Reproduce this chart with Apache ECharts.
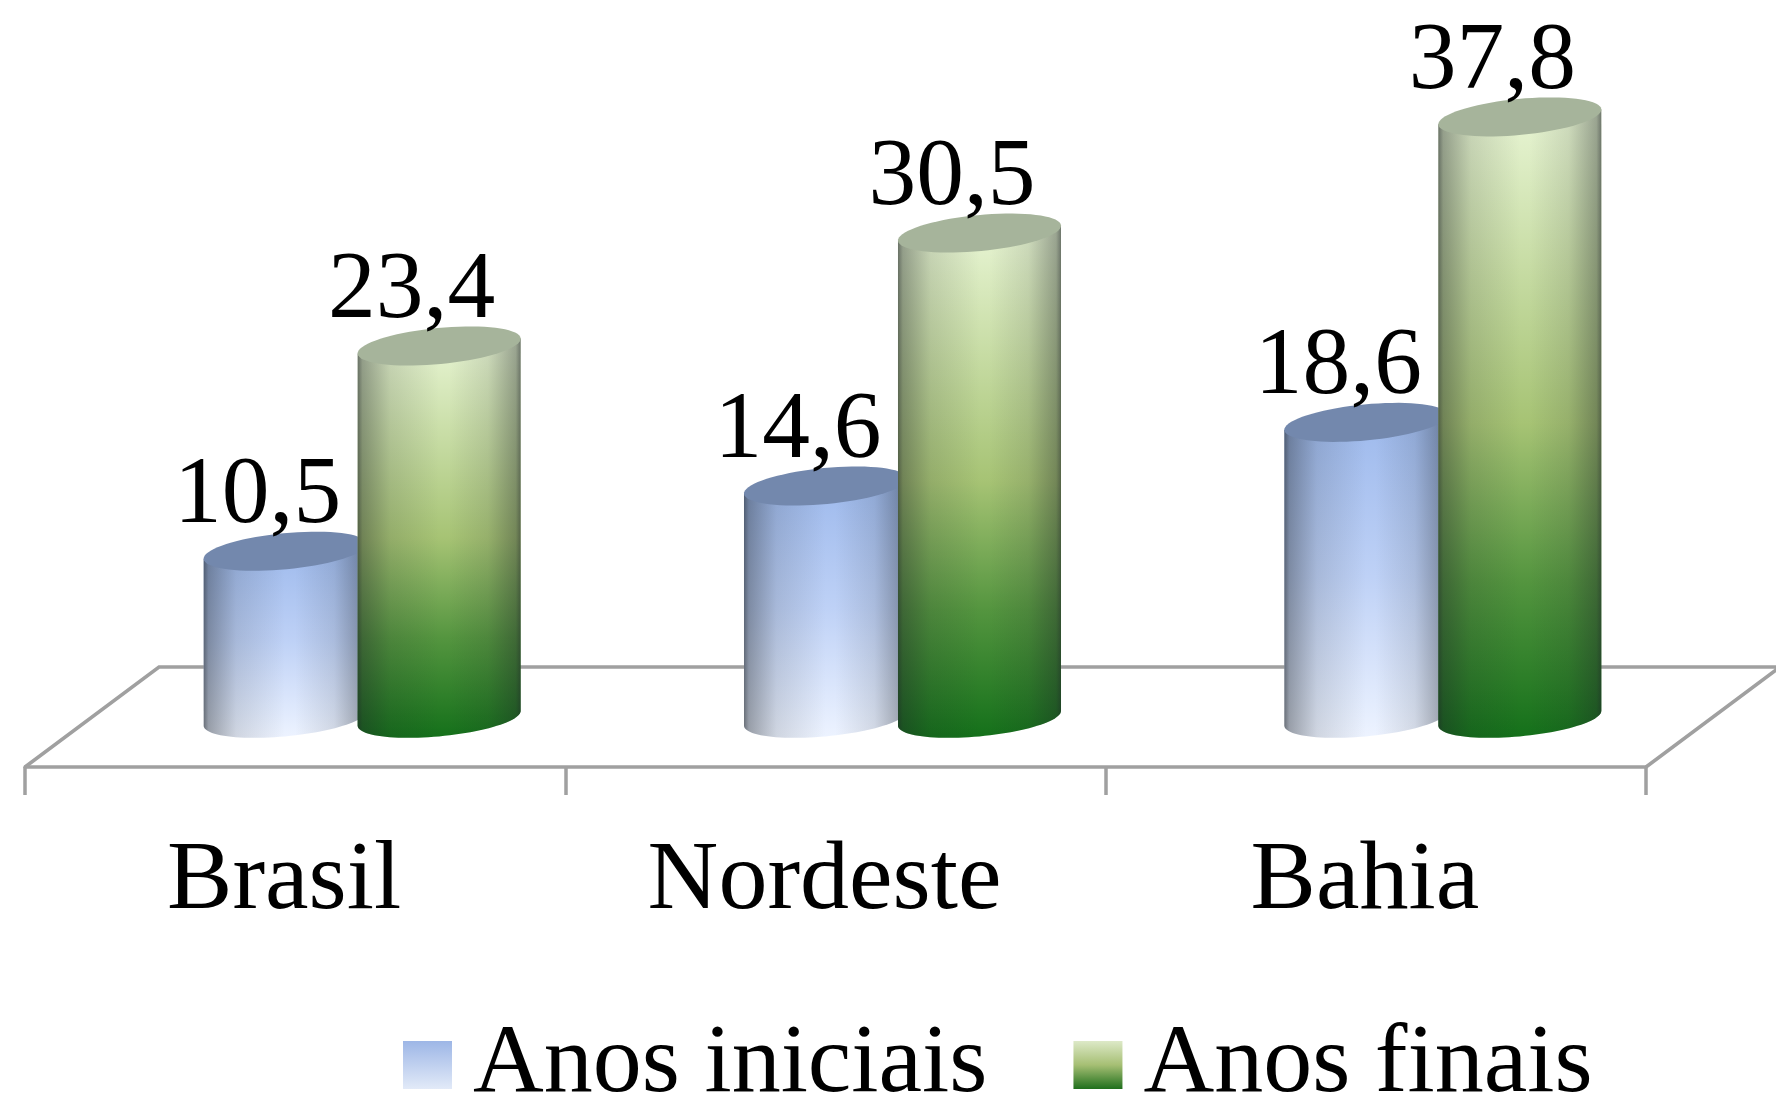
<!DOCTYPE html>
<html>
<head>
<meta charset="utf-8">
<title>Anos iniciais e finais</title>
<script src="https://cdn.jsdelivr.net/npm/echarts@6/dist/echarts.min.js"></script>
<style>
html,body{margin:0;padding:0;background:#fff;overflow:hidden}
#chart{width:1776px;height:1098px;filter:blur(0.6px)}
</style>
</head>
<body>
<div id="chart"></div>
<script>
const categories = ['Brasil', 'Nordeste', 'Bahia'];
const anosIniciais = [10.5, 14.6, 18.6];
const anosFinais = [23.4, 30.5, 37.8];
const seriesNames = ['Anos iniciais', 'Anos finais'];

const FONT = '"Liberation Serif","Times New Roman",serif';
const FONT_SIZE = 98, LABEL_SIZE = 95.5;
const G = echarts.graphic.LinearGradient;
const DEPTH = 134, FLOOR_BACK = 51.3, FLOOR_FRONT = 48.7;
const TILT = 0.095, RY = 18, WIDTH_FRAC = 0.303, STEP_FRAC = 0.285;
const LINE = '#a0a0a0', LINE_W = 3.5;

function vert(stops){ return new G(0,0,0,1,stops.map(s=>({offset:s[0],color:s[1]}))); }
const shade = () => new G(0,0,1,0,[
  {offset:0,color:'rgba(30,35,40,0.62)'},{offset:0.03,color:'rgba(30,35,40,0.4)'},
  {offset:0.2,color:'rgba(30,35,40,0.14)'},{offset:0.5,color:'rgba(30,35,40,0)'},
  {offset:0.56,color:'rgba(30,35,40,0)'},{offset:0.8,color:'rgba(30,35,40,0.12)'},
  {offset:0.97,color:'rgba(30,35,40,0.38)'},{offset:1,color:'rgba(30,35,40,0.6)'}]);

const styles = [
  { side:[[0,'#9db9ec'],[0.5,'#bed1f6'],[1,'#edf3ff']], top:'#7388ad', step:-0.5,
    legend:[[0,'#9db6e6'],[1,'#e2eaf8']] },
  { side:[[0,'#e8f5d4'],[0.5,'#a6c374'],[0.75,'#54953f'],[1,'#14701a']], top:'#a6b49b', step:0.5,
    legend:[[0,'#dde9c8'],[0.5,'#a6bf74'],[1,'#1f6f1c']] }
];

function ell(cx,cy,rx,t){
  const lx=rx*Math.cos(t), ly=RY*Math.sin(t);
  return [cx+lx*Math.cos(TILT)+ly*Math.sin(TILT), cy-lx*Math.sin(TILT)+ly*Math.cos(TILT)];
}
function cylinder(si){
  return function(params, api){
    const idx=api.value(0), val=api.value(1), band=api.size([1,0])[0];
    const st=styles[si];
    const rx=band*WIDTH_FRAC/2;
    const top=api.coord([idx,val]), base=api.coord([idx,0]);
    const cx=top[0]+DEPTH/2+st.step*STEP_FRAC*band;
    const t0=Math.atan2(RY*Math.sin(TILT), rx*Math.cos(TILT));
    const pts=[];
    for(let i=0;i<=48;i++) pts.push(ell(cx,base[1],rx,t0+Math.PI*i/48));
    pts.push(ell(cx,top[1],rx,t0+Math.PI));
    pts.push(ell(cx,top[1],rx,t0));
    const cap=[];
    for(let i=0;i<72;i++) cap.push(ell(cx,top[1],rx,Math.PI*2*i/72));
    return {type:'group',children:[
      {type:'polygon',shape:{points:pts},style:{fill:vert(st.side)}},
      {type:'polygon',shape:{points:pts},style:{fill:shade()}},
      {type:'polygon',shape:{points:cap},style:{fill:st.top}},
      {type:'text',z2:10,style:{text:val.toFixed(1).replace('.',','),x:cx-27.5,y:top[1]-6,
        textAlign:'center',textVerticalAlign:'bottom',font:LABEL_SIZE+'px '+FONT,fill:'#000'}}
    ]};
  };
}
function floor(params){
  const c=params.coordSys, by=c.y+c.height, fy=by+FLOOR_FRONT, ky=by-FLOOR_BACK;
  return {type:'polyline',shape:{points:[[c.x,fy],[c.x+DEPTH,ky],[c.x+c.width+DEPTH,ky],[c.x+c.width,fy]]},
    style:{fill:null,stroke:LINE,lineWidth:LINE_W}};
}

const chart = echarts.init(document.getElementById('chart'),null,{renderer:'canvas'});
chart.setOption({
  animation:false,
  backgroundColor:'#fff',
  grid:{left:25,top:81.9,width:1621,height:636.4,containLabel:false},
  legend:{
    left:403, top:1016, padding:0, itemWidth:49, itemHeight:48, itemGap:86, icon:'rect',
    textStyle:{fontFamily:FONT,fontSize:FONT_SIZE,color:'#000',padding:[7,0,0,16]},
    data:seriesNames.map((n,i)=>({name:n,icon:'rect',itemStyle:{color:vert(styles[i].legend)}}))
  },
  xAxis:{
    type:'category',data:categories,offset:FLOOR_FRONT,
    axisLine:{show:true,onZero:false,lineStyle:{color:LINE,width:LINE_W}},
    axisTick:{show:true,length:28,alignWithLabel:false,lineStyle:{color:LINE,width:LINE_W}},
    axisLabel:{fontFamily:FONT,fontSize:FONT_SIZE,color:'#000',margin:66,padding:[0,22,0,0],interval:0}
  },
  yAxis:{type:'value',min:0,max:40,show:false,splitLine:{show:false}},
  series:[
    {type:'custom',name:'piso',silent:true,renderItem:floor,data:[0],encode:{x:0,y:0},z:1,clip:false,tooltip:{show:false}},
    {type:'custom',name:seriesNames[0],renderItem:cylinder(0),data:anosIniciais.map((v,i)=>[i,v]),encode:{x:0,y:1},z:2,clip:false,
     itemStyle:{color:'#9db6e6'}},
    {type:'custom',name:seriesNames[1],renderItem:cylinder(1),data:anosFinais.map((v,i)=>[i,v]),encode:{x:0,y:1},z:3,clip:false,
     itemStyle:{color:'#a6bf74'}}
  ]
});
</script>
</body>
</html>
